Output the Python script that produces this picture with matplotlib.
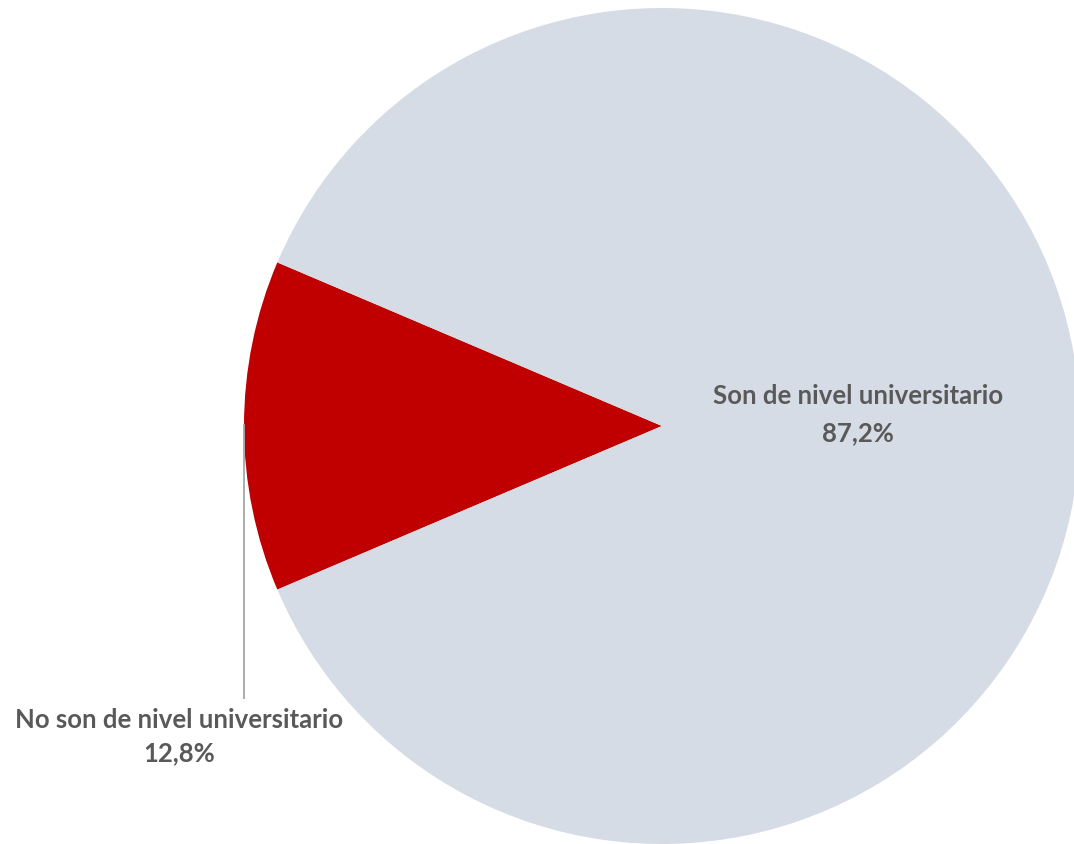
import matplotlib
matplotlib.use("Agg")
import matplotlib.pyplot as plt

categories = ["No son de nivel universitario", "Son de nivel universitario"]
values = [12.8, 87.2]
value_labels = ["12,8%", "87,2%"]
colors = ["#C00000", "#D6DCE5"]

W, H = 1074, 845
fig = plt.figure(figsize=(W / 100, H / 100), dpi=100)
ax = fig.add_axes([0, 0, 1, 1])

cx, cy, r = 662, 427, 418
half = values[0] / sum(values) * 360 / 2
ax.pie(values, colors=colors, center=(cx, cy), radius=r,
       startangle=180 - half, counterclock=True,
       wedgeprops=dict(linewidth=0), frame=True)
ax.set_xlim(0, W)
ax.set_ylim(H, 0)
ax.set_aspect("auto")
ax.axis("off")

txt = dict(family=["Lato", "DejaVu Sans"], weight="bold", color="#595959",
           fontsize=18.5, ha="center", va="center")

# leader line for small slice
ax.plot([244, 244], [425, 700], color="#A6A6A6", lw=1.3, solid_capstyle="butt")

ax.text(179, 720, categories[0], **txt)
ax.text(179, 753, value_labels[0], **txt)
ax.text(858, 396, categories[1], **txt)
ax.text(858, 433, value_labels[1], **txt)

fig.savefig("out.png", dpi=100, facecolor="white")
